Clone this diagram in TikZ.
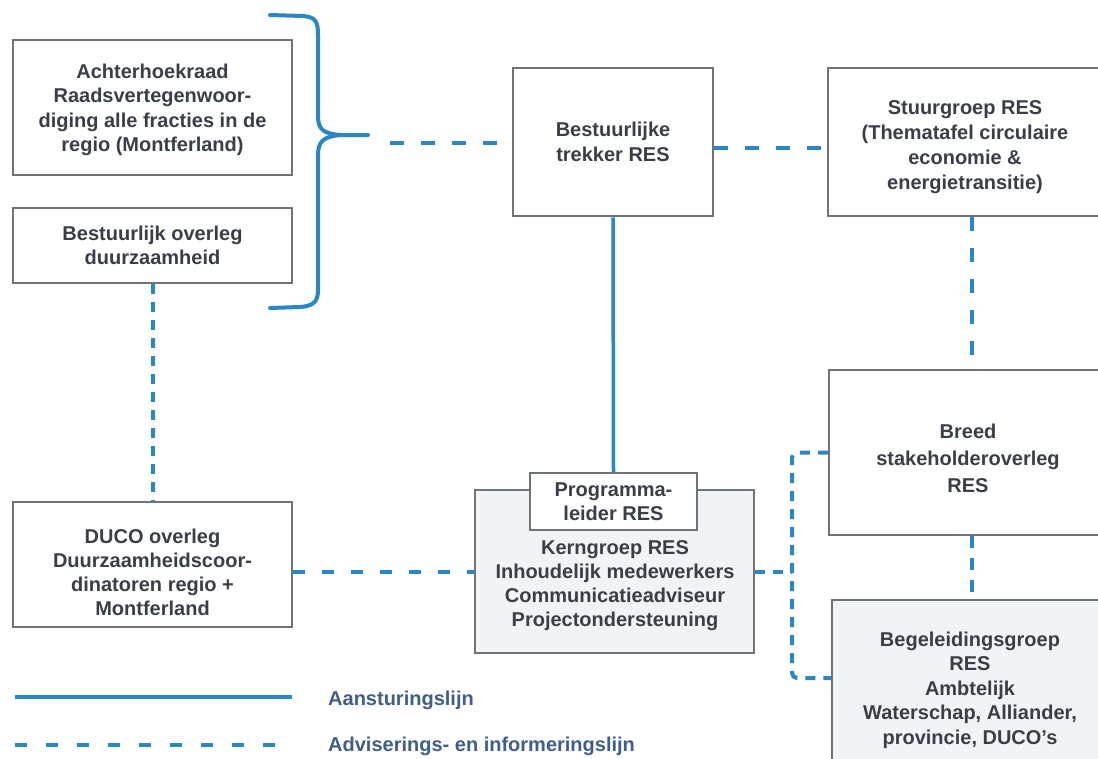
\documentclass[tikz,border=0pt]{standalone}
\usepackage{fontspec}
\setmainfont{Liberation Sans}
\usetikzlibrary{calc}
\definecolor{lineblue}{HTML}{2A87C5}
\definecolor{boxgray}{HTML}{6E7378}
\definecolor{txt}{HTML}{3A3F47}
\definecolor{legtxt}{HTML}{3F5E88}
\definecolor{lightfill}{HTML}{F1F4F7}
\begin{document}
\begin{tikzpicture}[x=1pt,y=-1pt,
  box/.style={draw=boxgray, line width=2.5pt, fill=white, text=txt, align=center,
    font=\fontsize{20}{24.5}\selectfont\bfseries, inner sep=0pt},
  plaintext/.style={text=txt, align=center, font=\fontsize{20}{24.5}\selectfont\bfseries, inner sep=0pt},
  legtext/.style={text=legtxt, anchor=west, font=\fontsize{20}{24}\selectfont\bfseries, inner sep=0pt},
  solidline/.style={draw=lineblue, line width=3.5pt},
  dashline/.style={draw=lineblue, line width=4pt, dash pattern=on 14pt off 17pt},
  dashfine/.style={draw=lineblue, line width=4pt, dash pattern=on 10pt off 8pt},
]
\useasboundingbox (0,0) rectangle (1098,758);
\clip (0,0) rectangle (1098,758);
\fill[white] (0,0) rectangle (1098,758);

% boxes
\node[box, minimum width=279pt, minimum height=135pt] (achter) at (152.5,107.5) {};
\node[plaintext] (achtertext) at (152.5,110)
  {Achterhoekraad\\Raadsvertegenwoor-\\diging alle fracties in de\\regio (Montferland)};
\node[box, minimum width=279pt, minimum height=75pt] (bestov) at (152.5,245.5)
  {Bestuurlijk overleg\\duurzaamheid};
\node[box, minimum width=200pt, minimum height=148pt] (trekker) at (613,142)
  {Bestuurlijke\\trekker RES};
\node[box, minimum width=274pt, minimum height=148pt] (stuur) at (965,142) {};
\node[plaintext, font=\fontsize{20}{25}\selectfont\bfseries] (stuurtext) at (965,147)
  {Stuurgroep RES\\(Thematafel circulaire\\economie \&\\energietransitie)};
\node[box, minimum width=276pt, minimum height=165pt] (breed) at (967,452.5) {};
\node[plaintext, font=\fontsize{20}{27}\selectfont\bfseries] (breedtext) at (968,458)
  {Breed\\stakeholderoverleg\\RES};
\node[box, fill=lightfill, minimum width=276pt, minimum height=180pt] (begeleid) at (970,690)
  {Begeleidingsgroep\\RES\\Ambtelijk\\Waterschap, Alliander,\\provincie, DUCO's};
\node[box, fill=lightfill, minimum width=279pt, minimum height=163pt] (kern) at (614.5,571.5) {};
\node[plaintext, font=\fontsize{20}{24}\selectfont\bfseries] (kerntext) at (615,586)
  {Kerngroep RES\\Inhoudelijk medewerkers\\Communicatieadviseur\\Projectondersteuning};
\node[box, minimum width=167pt, minimum height=57pt] (prog) at (613.5,501.5)
  {Programma-\\leider RES};
\node[box, minimum width=279pt, minimum height=125pt] (duco) at (152.5,564.5) {};
\node[plaintext, font=\fontsize{20}{24}\selectfont\bfseries] (ducotext) at (152.5,572)
  {DUCO overleg\\Duurzaamheidscoor-\\dinatoren regio +\\Montferland};

% brace
\coordinate (bracetip) at (368,135);
\draw[lineblue, line width=4pt, line cap=round]
  (270,15) -- (303,16) .. controls (316,17) and (318,22) .. (318,35)
  -- (318,116) .. controls (318,130) and (324,134) .. (342,135) -- (bracetip);
\draw[lineblue, line width=4pt, line cap=round]
  (342,135) .. controls (324,136) and (318,141) .. (318,155)
  -- (318,290) .. controls (318,303) and (312,306) .. (300,307) -- (270,308);

% connectors
\coordinate (advstart) at (390,143);
\draw[dashline] (advstart) -- (trekker.west |- advstart);
\draw[dashline] ([yshift=-6pt]trekker.east) -- ([yshift=-6pt]stuur.west);
\draw[dashline] ([xshift=7pt]stuur.south) -- ([xshift=7pt]stuur.south |- breed.north);
\draw[dashline, dash pattern=on 12pt off 10pt] ([xshift=5pt]breed.south) -- ([xshift=5pt]breed.south |- begeleid.north);
\draw[solidline] (trekker.south) -- (prog.north);
\draw[dashfine] (bestov.south) -- (duco.north);
\draw[dashline, dash pattern=on 12pt off 17pt] ([yshift=-7pt]duco.east) -- ([yshift=-7pt]duco.east -| kern.west);
\coordinate (bx) at (792,0);
\draw[dashfine] (kern.east) -- (bx |- kern.east);
\draw[dashfine, rounded corners=5pt] (breed.west) -- (bx |- breed.west)
  -- (bx |- 0,678) -- ([yshift=12pt]begeleid.west);

% legend
\coordinate (ls1) at (15,697);
\coordinate (ls2) at (292,697);
\coordinate (ld1) at (15,745);
\coordinate (ld2) at (285,745);
\draw[solidline, line width=4pt] (ls1) -- (ls2);
\draw[dashline, dash pattern=on 12pt off 19pt] (ld1) -- (ld2);
\node[legtext] (leg1) at (328,700) {Aansturingslijn};
\node[legtext] (leg2) at (328,746) {Adviserings- en informeringslijn};
\end{tikzpicture}
\end{document}
